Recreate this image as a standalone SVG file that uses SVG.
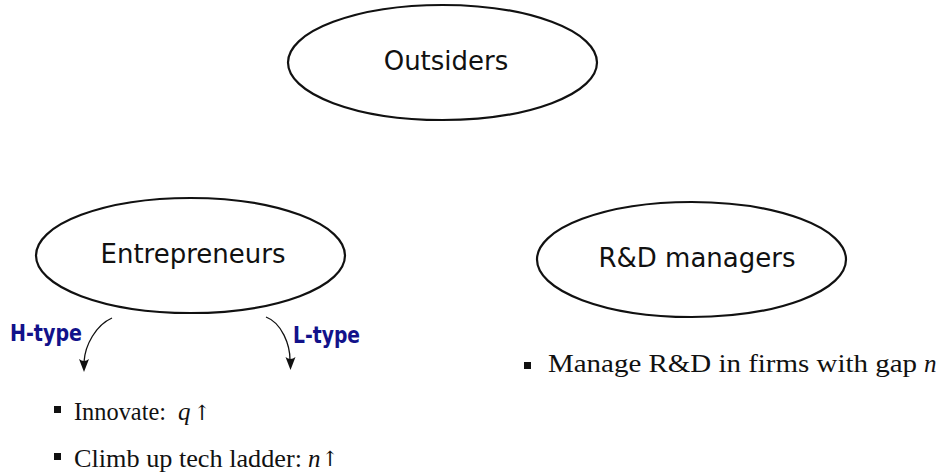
<svg xmlns="http://www.w3.org/2000/svg" width="943" height="472" viewBox="0 0 943 472">
  <style>
    .node ellipse { fill: #fff; stroke: #111; stroke-width: 2.2; }
    .node text { font-family: "DejaVu Sans", sans-serif; font-size: 26px; fill: #111; text-anchor: middle; }
    .edge { fill: none; stroke: #111; stroke-width: 1.3; }
    .head { fill: #111; }
    .tag { font-family: "DejaVu Sans Condensed", "DejaVu Sans", sans-serif; font-stretch: condensed; font-weight: bold; font-size: 23px; fill: #12128a; }
    .item { font-family: "Liberation Serif", serif; font-size: 25px; fill: #111; }
    .m { font-style: italic; }
    .up { font-family: "DejaVu Serif", serif; font-size: 21px; fill: #111; text-anchor: middle; }
    .bullet { fill: #111; }
  </style>
  <rect width="943" height="472" fill="#fff"/>

  <g id="outsiders" class="node">
    <ellipse cx="442.5" cy="62.5" rx="154.5" ry="57.5"/>
    <text x="446" y="70">Outsiders</text>
  </g>

  <g id="entrepreneurs" class="node">
    <ellipse cx="190.5" cy="255.5" rx="154.5" ry="57.5"/>
    <text x="193" y="263">Entrepreneurs</text>
  </g>

  <g id="rd-managers" class="node">
    <ellipse cx="691.5" cy="259.5" rx="154.5" ry="57.5"/>
    <text x="697" y="267">R&amp;D managers</text>
  </g>

  <g id="connectors">
    <path class="edge" d="M112,318 C96,325 85,345 84,362"/>
    <path class="head" d="M84,372 L79,359 Q84,363 89,359 Z"/>
    <path class="edge" d="M266,317 C282,323 290,345 290,360"/>
    <path class="head" d="M290.5,370 L285.5,357 Q290.5,361 295.5,357 Z"/>
  </g>

  <g id="labels">
    <text class="tag" x="10" y="341" textLength="72" lengthAdjust="spacingAndGlyphs">H-type</text>
    <text class="tag" x="293" y="343" textLength="67" lengthAdjust="spacingAndGlyphs">L-type</text>
  </g>

  <g id="entrepreneur-items">
    <rect class="bullet" x="54" y="406" width="7" height="7"/>
    <text class="item" x="74" y="420" textLength="92" lengthAdjust="spacingAndGlyphs">Innovate:</text>
    <text class="item m" x="178" y="420">q</text>
    <text class="up" x="202" y="420">↑</text>
    <rect class="bullet" x="54" y="453" width="7" height="7"/>
    <text class="item" x="74" y="467" textLength="228" lengthAdjust="spacingAndGlyphs">Climb up tech ladder:</text>
    <text class="item m" x="308" y="467">n</text>
    <text class="up" x="330" y="466">↑</text>
  </g>

  <g id="manager-items">
    <rect class="bullet" x="524" y="362" width="7" height="7"/>
    <text class="item" x="548" y="372" textLength="369" lengthAdjust="spacingAndGlyphs">Manage R&amp;D in firms with gap</text>
    <text class="item m" x="924" y="372">n</text>
  </g>
</svg>
